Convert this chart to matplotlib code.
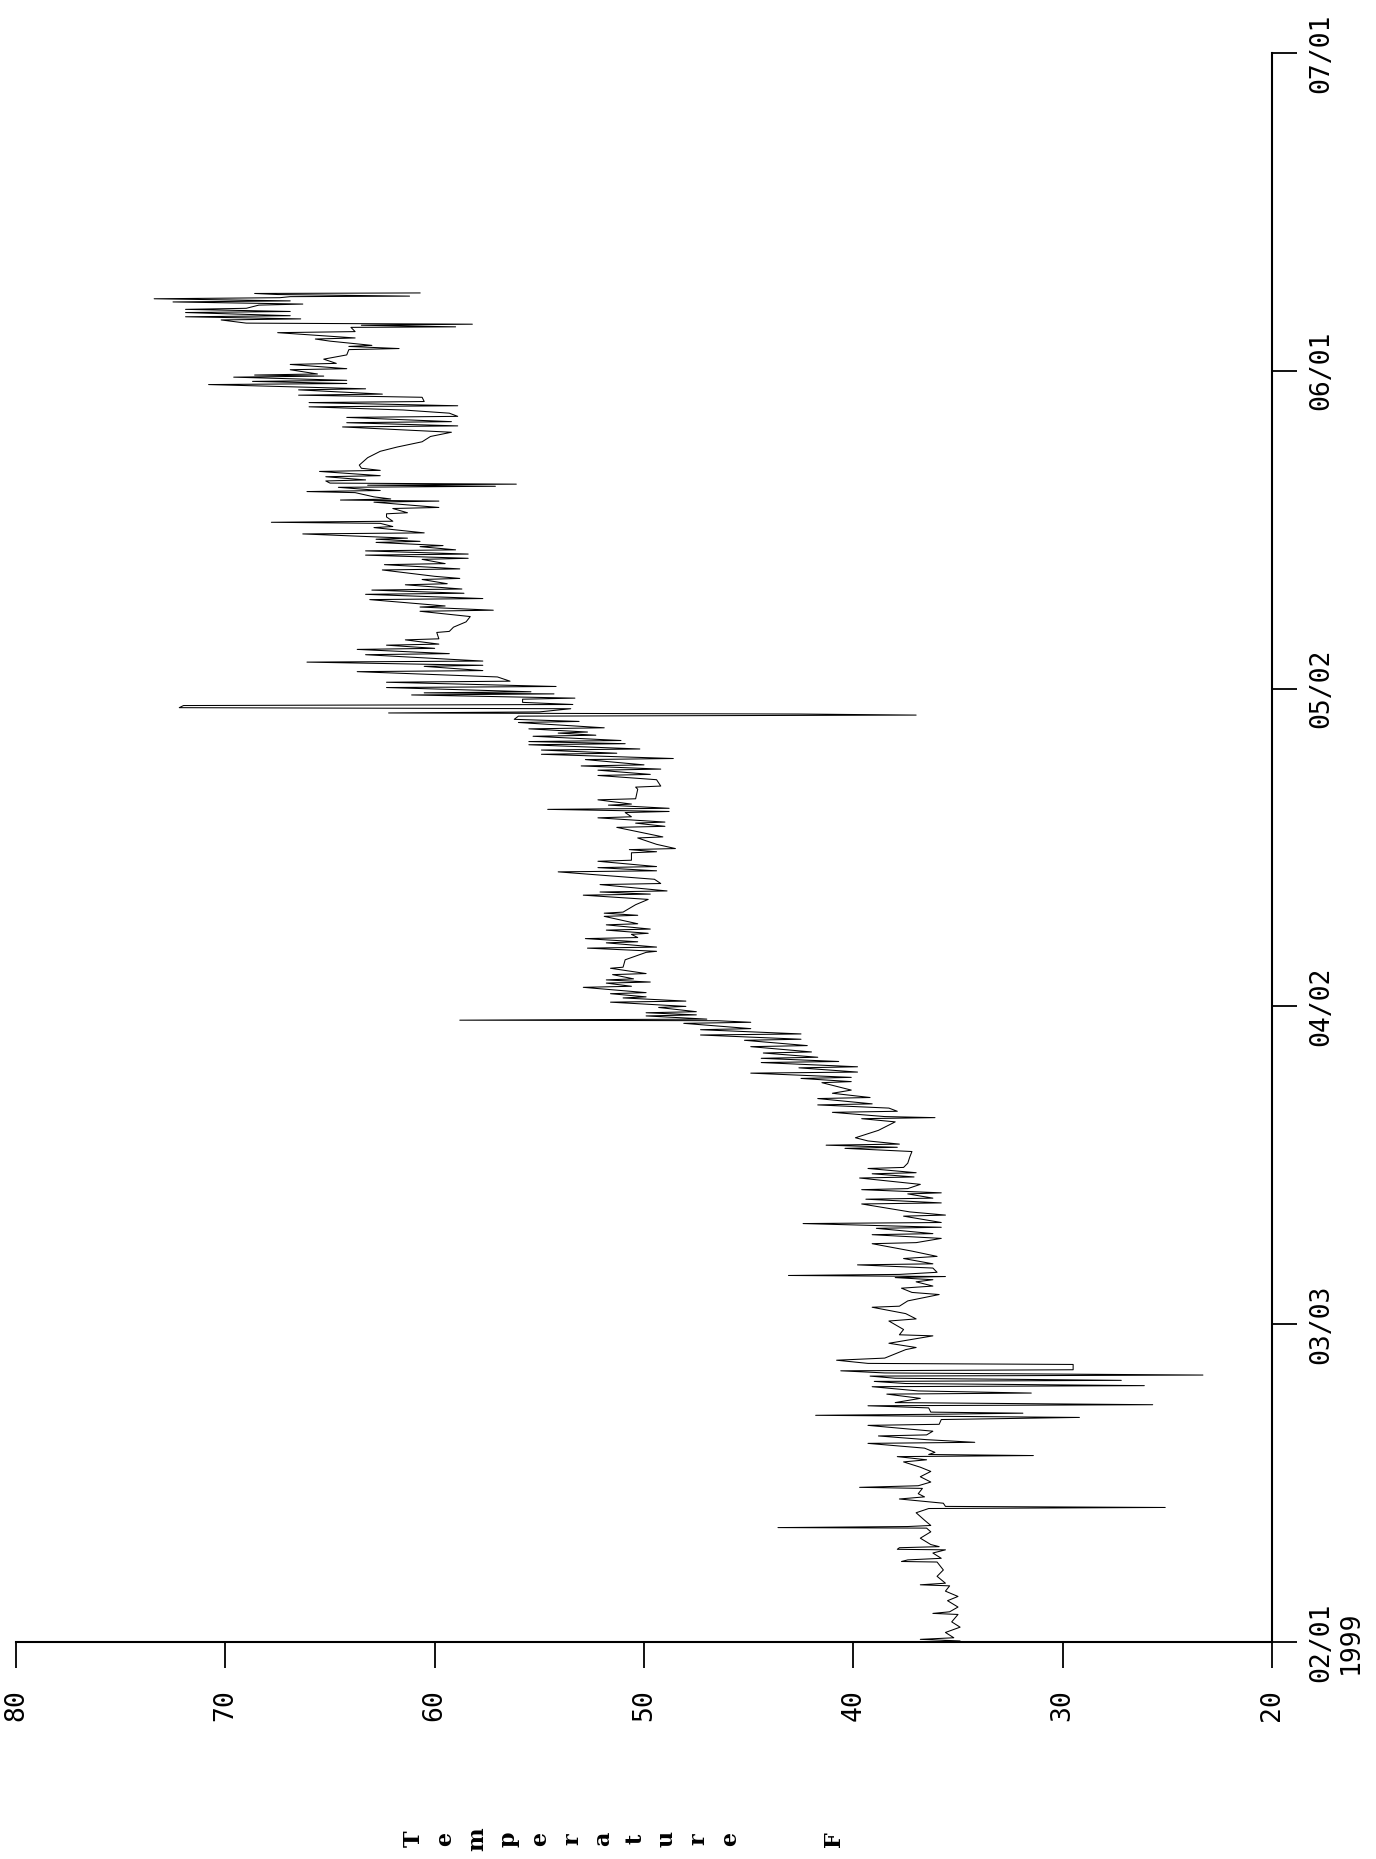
import matplotlib
matplotlib.use('Agg')
import matplotlib.pyplot as plt

# readings: days after 02/01/1999 and temperature (F)
days = [
    # early february
    0.00, 0.10, 0.25, 0.40, 0.90, 1.40, 1.90, 2.60, 2.70, 2.85,
    3.30, 3.90, 4.30, 4.80, 5.30, 5.40, 5.55, 6.20, 6.80, 7.30,
    7.55, 7.60, 7.75, 7.90, 8.40, 8.70, 8.75, 8.90, 9.00, 9.20,
    9.80, 10.40, 10.75, 10.80, 10.90, 11.00, 11.50, 12.20, 12.60, 12.70,
    12.80, 13.10, 13.50, 13.70, 14.00, 14.50, 14.60, 14.75, 15.10, 15.60,
    16.10, 16.50, 17.00, 17.20,
    # late february
    17.50, 17.60, 17.70, 17.90, 18.30, 18.75, 18.85, 19.10, 19.45, 19.55,
    19.90, 20.45, 20.55, 21.00, 21.20, 21.30, 21.40, 21.50, 21.60, 21.70,
    22.10, 22.30, 22.40, 22.60, 23.00, 23.40, 23.50, 23.70, 24.10, 24.20,
    24.40, 24.60, 24.70, 24.90, 25.10, 25.20, 25.40, 25.60, 25.70, 26.20,
    26.30, 26.60, 26.80, 27.20, 27.60, 27.80, 28.20, 28.90, 29.00, 29.50,
    30.30, 30.50, 31.00, 31.60, 31.70, 32.20, 32.80, 33.00, 33.40, 33.60,
    34.00,
    # march
    34.20, 34.40, 34.50, 34.60, 34.70, 34.90, 35.30, 35.60, 35.70, 36.20,
    36.40, 36.90, 37.60, 37.70, 38.10, 38.45, 38.55, 39.05, 39.15, 39.50,
    39.60, 40.20, 40.30, 40.60, 41.35, 41.45, 41.80, 41.90, 42.30, 42.40,
    42.70, 42.80, 43.20, 43.80, 43.90, 44.20, 44.30, 44.70, 44.80, 45.20,
    45.80, 46.30, 46.60, 46.70, 46.90, 47.00, 47.30, 47.60, 48.30, 49.10,
    49.40, 49.50, 49.60, 50.00, 50.10, 50.40, 50.70, 50.80, 51.30, 51.40,
    # late march / april
    51.80, 52.10, 52.80, 52.90, 53.20, 53.30, 53.70, 53.80, 54.20, 54.30,
    54.70, 54.80, 55.10, 55.20, 55.60, 55.70, 56.20, 56.30, 56.80, 56.90,
    57.30, 57.40, 57.80, 57.90, 58.40, 58.50, 58.65, 58.70, 58.80, 59.10,
    59.20, 59.40, 59.50, 59.90, 60.00, 60.40, 60.50, 60.80, 60.90, 61.20,
    61.30, 61.80, 61.90, 62.20, 62.30, 62.50, 62.60, 63.00, 63.10, 63.60,
    63.70, 64.40, 65.10, 65.20, 65.50, 65.60, 66.00, 66.10, 66.40, 66.50,
    66.80, 66.90, 67.20, 67.30, 67.70, 67.80, 68.50, 68.60, 68.80, 68.90,
    69.60, 70.10, 70.50, 70.60, 70.80, 70.90, 71.50, 71.60, 72.00,
    # april / early may
    72.70, 72.80, 73.10, 73.20, 73.70, 73.80, 74.50, 74.60, 74.80, 74.90,
    75.30, 75.90, 76.00, 76.90, 77.00, 77.30, 77.40, 77.80, 77.90, 78.30,
    78.40, 78.60, 78.70, 79.00, 79.10, 79.50, 79.60, 80.50, 80.70, 80.80,
    81.40, 81.80, 81.90, 82.30, 82.40, 82.70, 82.80, 83.30, 83.40, 83.80,
    83.90, 84.20, 84.30, 84.70, 84.80, 85.00, 85.10, 85.50, 85.60, 85.80,
    85.90, 86.20, 86.30, 86.80, 86.90, 87.10, 87.40, 87.50, 87.60, 87.70,
    87.80, 88.10, 88.20, 88.40, 88.50, 88.70, 89.00, 89.10, 89.40, 89.50,
    89.60, 89.70, 90.10, 90.20, 90.60, 90.70, 91.10,
    # may
    91.60, 91.70, 92.10, 92.20, 92.50, 92.60, 93.20, 93.30, 93.70, 93.80,
    94.10, 94.20, 94.60, 94.70, 95.30, 95.40, 95.80, 96.30, 96.80, 97.30,
    97.40, 97.70, 97.80, 98.40, 98.50, 98.90, 99.00, 99.30, 99.40, 99.80,
    99.90, 100.30, 100.40, 100.60, 101.20, 101.30, 101.70, 101.80, 102.20, 102.30,
    102.60, 102.70, 103.00, 103.10, 103.40, 103.50, 103.80, 103.90, 104.10, 104.20,
    104.60, 104.70, 105.20, 105.30, 105.60, 105.70, 105.80, 106.20, 106.50, 106.60,
    107.00, 107.10,
    # late may / june
    107.60, 107.70, 107.80, 107.90, 108.10, 108.50, 108.60, 108.70, 109.00, 109.10,
    109.20, 109.30, 109.40, 109.60, 109.70, 110.00, 110.10, 110.50, 110.60, 110.80,
    111.10, 111.80, 112.40, 112.80, 113.30, 113.80, 114.20, 114.70, 114.80, 115.10,
    115.20, 115.60, 115.70, 116.00, 116.30, 116.60, 116.70, 117.00, 117.10, 117.50,
    117.70, 117.80, 118.20, 118.30, 118.70, 118.80, 119.00, 119.10, 119.40, 119.50,
    119.60, 119.70, 120.10, 120.20, 120.60, 120.70, 121.10, 121.50, 122.00, 122.10,
    122.30, 122.40, 122.80, 123.00, 123.10, 123.60, 123.70, 124.10, 124.15, 124.30,
    124.40, 124.50, 124.80, 124.90, 125.10, 125.20, 125.50, 125.60, 125.80, 125.90,
    126.20, 126.30, 126.50, 126.60, 126.80, 126.90, 127.00, 127.05, 127.20, 127.30,
    127.35,
]

temps = [
    # early february
    36.6, 34.9, 36.8, 35.2, 35.6, 34.9, 35.3, 35.0, 36.2, 35.4,
    35.0, 35.5, 35.0, 35.6, 35.4, 36.8, 35.6, 36.0, 35.7, 35.9,
    36.0, 37.7, 37.4, 35.8, 36.2, 35.6, 37.9, 37.8, 35.9, 36.3,
    36.8, 36.3, 36.5, 43.6, 37.4, 36.3, 36.6, 37.0, 36.4, 25.1,
    35.6, 35.7, 37.8, 36.6, 36.9, 36.7, 39.7, 36.9, 36.3, 36.8,
    36.3, 36.8, 37.6, 36.5,
    # late february
    37.9, 31.4, 36.4, 36.1, 36.6, 39.3, 34.2, 36.5, 38.8, 36.5,
    36.2, 39.3, 35.9, 35.8, 29.2, 35.7, 41.8, 35.9, 31.9, 36.3,
    36.4, 39.3, 25.7, 38.0, 36.8, 38.4, 31.5, 36.9, 39.1, 26.1,
    37.5, 39.0, 27.2, 38.0, 39.2, 23.3, 38.5, 40.6, 29.5, 29.5,
    39.3, 40.8, 38.5, 38.0, 37.5, 37.0, 38.3, 36.2, 37.8, 37.6,
    38.3, 37.0, 37.5, 39.1, 37.8, 37.4, 35.9, 37.2, 37.7, 36.2,
    37.0,
    # march
    36.2, 38.0, 35.6, 43.1, 37.8, 36.0, 36.2, 39.8, 36.2, 37.6,
    36.0, 37.2, 39.1, 37.0, 35.8, 39.1, 36.2, 38.9, 35.8, 42.4,
    35.8, 37.6, 35.6, 37.3, 39.6, 35.8, 39.4, 36.2, 37.4, 35.8,
    39.6, 37.4, 36.8, 39.7, 37.1, 39.1, 37.0, 39.3, 37.6, 37.4,
    37.3, 37.2, 40.4, 37.9, 41.3, 37.8, 39.3, 39.9, 38.8, 38.0,
    39.6, 36.1, 38.5, 41.0, 37.9, 38.3, 41.7, 39.1, 41.7, 39.2,
    # late march / april
    41.0, 40.1, 41.5, 40.1, 42.5, 40.1, 44.9, 39.8, 42.6, 39.8,
    44.4, 40.7, 44.4, 41.7, 44.3, 42.0, 44.9, 42.2, 45.2, 42.5,
    47.3, 42.5, 47.3, 44.9, 48.1, 44.9, 46.5, 58.8, 47.0, 49.9,
    47.5, 49.9, 47.5, 49.3, 48.0, 51.6, 48.0, 51.0, 49.9, 51.6,
    49.9, 52.9, 50.6, 51.8, 49.7, 51.8, 50.5, 51.5, 49.9, 51.6,
    51.0, 50.9, 49.9, 49.4, 52.7, 49.4, 51.8, 50.3, 52.8, 50.3,
    50.6, 49.8, 51.8, 49.7, 51.8, 50.3, 51.9, 50.3, 51.9, 51.0,
    50.4, 49.8, 52.9, 49.7, 52.1, 48.9, 52.1, 49.2, 49.5,
    # april / early may
    54.1, 49.4, 52.2, 49.4, 52.2, 50.6, 50.6, 49.4, 50.7, 48.5,
    49.4, 50.3, 49.1, 51.3, 49.0, 50.4, 49.0, 52.2, 50.6, 50.9,
    48.8, 54.6, 48.8, 51.7, 50.6, 52.2, 50.4, 50.3, 50.4, 49.2,
    49.4, 52.2, 49.7, 52.2, 49.2, 53.0, 50.0, 52.8, 48.6, 54.9,
    51.3, 54.9, 50.2, 55.5, 50.9, 55.5, 51.1, 55.3, 52.3, 54.1,
    52.7, 55.5, 51.9, 56.0, 53.1, 56.2, 56.0, 37.0, 42.6, 62.2,
    55.0, 53.5, 72.2, 72.0, 53.4, 55.8, 55.8, 53.3, 61.1, 54.3,
    60.5, 55.4, 62.3, 54.2, 62.3, 56.4, 57.0,
    # may
    63.7, 57.7, 60.5, 57.7, 66.1, 57.7, 63.3, 59.3, 63.7, 60.0,
    62.3, 59.8, 61.4, 59.8, 59.9, 59.3, 59.1, 58.5, 58.3, 60.7,
    57.2, 60.7, 59.5, 63.1, 57.7, 63.3, 58.6, 63.0, 58.7, 61.4,
    59.4, 60.6, 58.8, 60.0, 62.5, 58.8, 62.4, 59.5, 60.6, 58.4,
    63.3, 58.4, 63.3, 59.0, 60.7, 59.6, 62.8, 60.7, 62.8, 61.3,
    66.3, 60.5, 62.9, 62.0, 62.6, 67.8, 62.0, 62.3, 62.3, 61.3,
    62.0, 59.8,
    # late may / june
    62.9, 59.8, 64.5, 62.1, 62.9, 63.8, 66.1, 62.6, 64.6, 57.1,
    63.2, 56.1, 65.0, 65.2, 63.3, 65.2, 62.6, 65.5, 62.6, 63.5,
    63.6, 63.2, 62.6, 61.8, 60.6, 60.2, 59.2, 64.4, 58.9, 64.2,
    59.2, 64.2, 58.9, 59.3, 61.5, 66.0, 58.9, 66.0, 60.5, 60.6,
    66.5, 62.5, 66.5, 63.3, 70.8, 64.2, 68.7, 64.2, 69.6, 65.3,
    68.6, 65.6, 66.9, 64.2, 66.9, 64.7, 65.3, 64.2, 64.1, 61.7,
    64.1, 63.0, 65.0, 65.7, 63.8, 67.5, 63.8, 64.0, 59.0, 63.5,
    58.2, 69.0, 70.2, 66.4, 71.9, 66.9, 71.9, 66.9, 71.9, 69.0,
    68.4, 66.3, 72.5, 66.9, 73.4, 67.4, 66.9, 61.2, 67.5, 68.6,
    60.7,
]

temp_ticks = [80, 70, 60, 50, 40, 30, 20]
date_ticks = [0, 30, 60, 90, 120, 150]
date_labels = ['02/01\n1999', '03/03', '04/02', '05/02', '06/01', '07/01']
label_letters = ['T', 'e', 'm', 'p', 'e', 'r', 'a', 't', 'u', 'r', 'e']

plt.rcParams['font.family'] = 'DejaVu Sans Mono'

fig = plt.figure(figsize=(13.76, 18.59), dpi=100)
ax = fig.add_axes([16 / 1376, 217 / 1859, 1256 / 1376, 1589 / 1859])

# chart is drawn turned a quarter turn: temperature runs along the bottom, dates up the right
ax.plot(temps, days, color='black', lw=0.75)
ax.set_xlim(80, 20)
ax.set_ylim(0, 150)

ax.spines['left'].set_visible(False)
ax.spines['top'].set_visible(False)
ax.spines['bottom'].set_linewidth(1.5)
ax.spines['right'].set_linewidth(1.5)

ax.set_xticks(temp_ticks)
ax.set_xticklabels([str(t) for t in temp_ticks], rotation=90, fontsize=19)
ax.tick_params(axis='x', direction='out', length=19, width=1.3, pad=15)

ax.yaxis.tick_right()
ax.set_yticks(date_ticks)
ax.set_yticklabels(date_labels, rotation=90, fontsize=19, va='center', ha='left')
for lab in ax.get_yticklabels():
    lab.set_multialignment('center')
ax.tick_params(axis='y', direction='out', length=18, width=1.3, pad=8)

# stacked axis title, one letter at a time
for i, ch in enumerate(label_letters):
    fig.text((414 + 31.6 * i) / 1376, 1 - 1839 / 1859, ch, rotation=90,
             ha='center', va='center', fontsize=16, family='DejaVu Serif', fontweight='bold')
fig.text(834 / 1376, 1 - 1839 / 1859, 'F', rotation=90,
         ha='center', va='center', fontsize=16, family='DejaVu Serif', fontweight='bold')

fig.savefig('out.png', dpi=100)
